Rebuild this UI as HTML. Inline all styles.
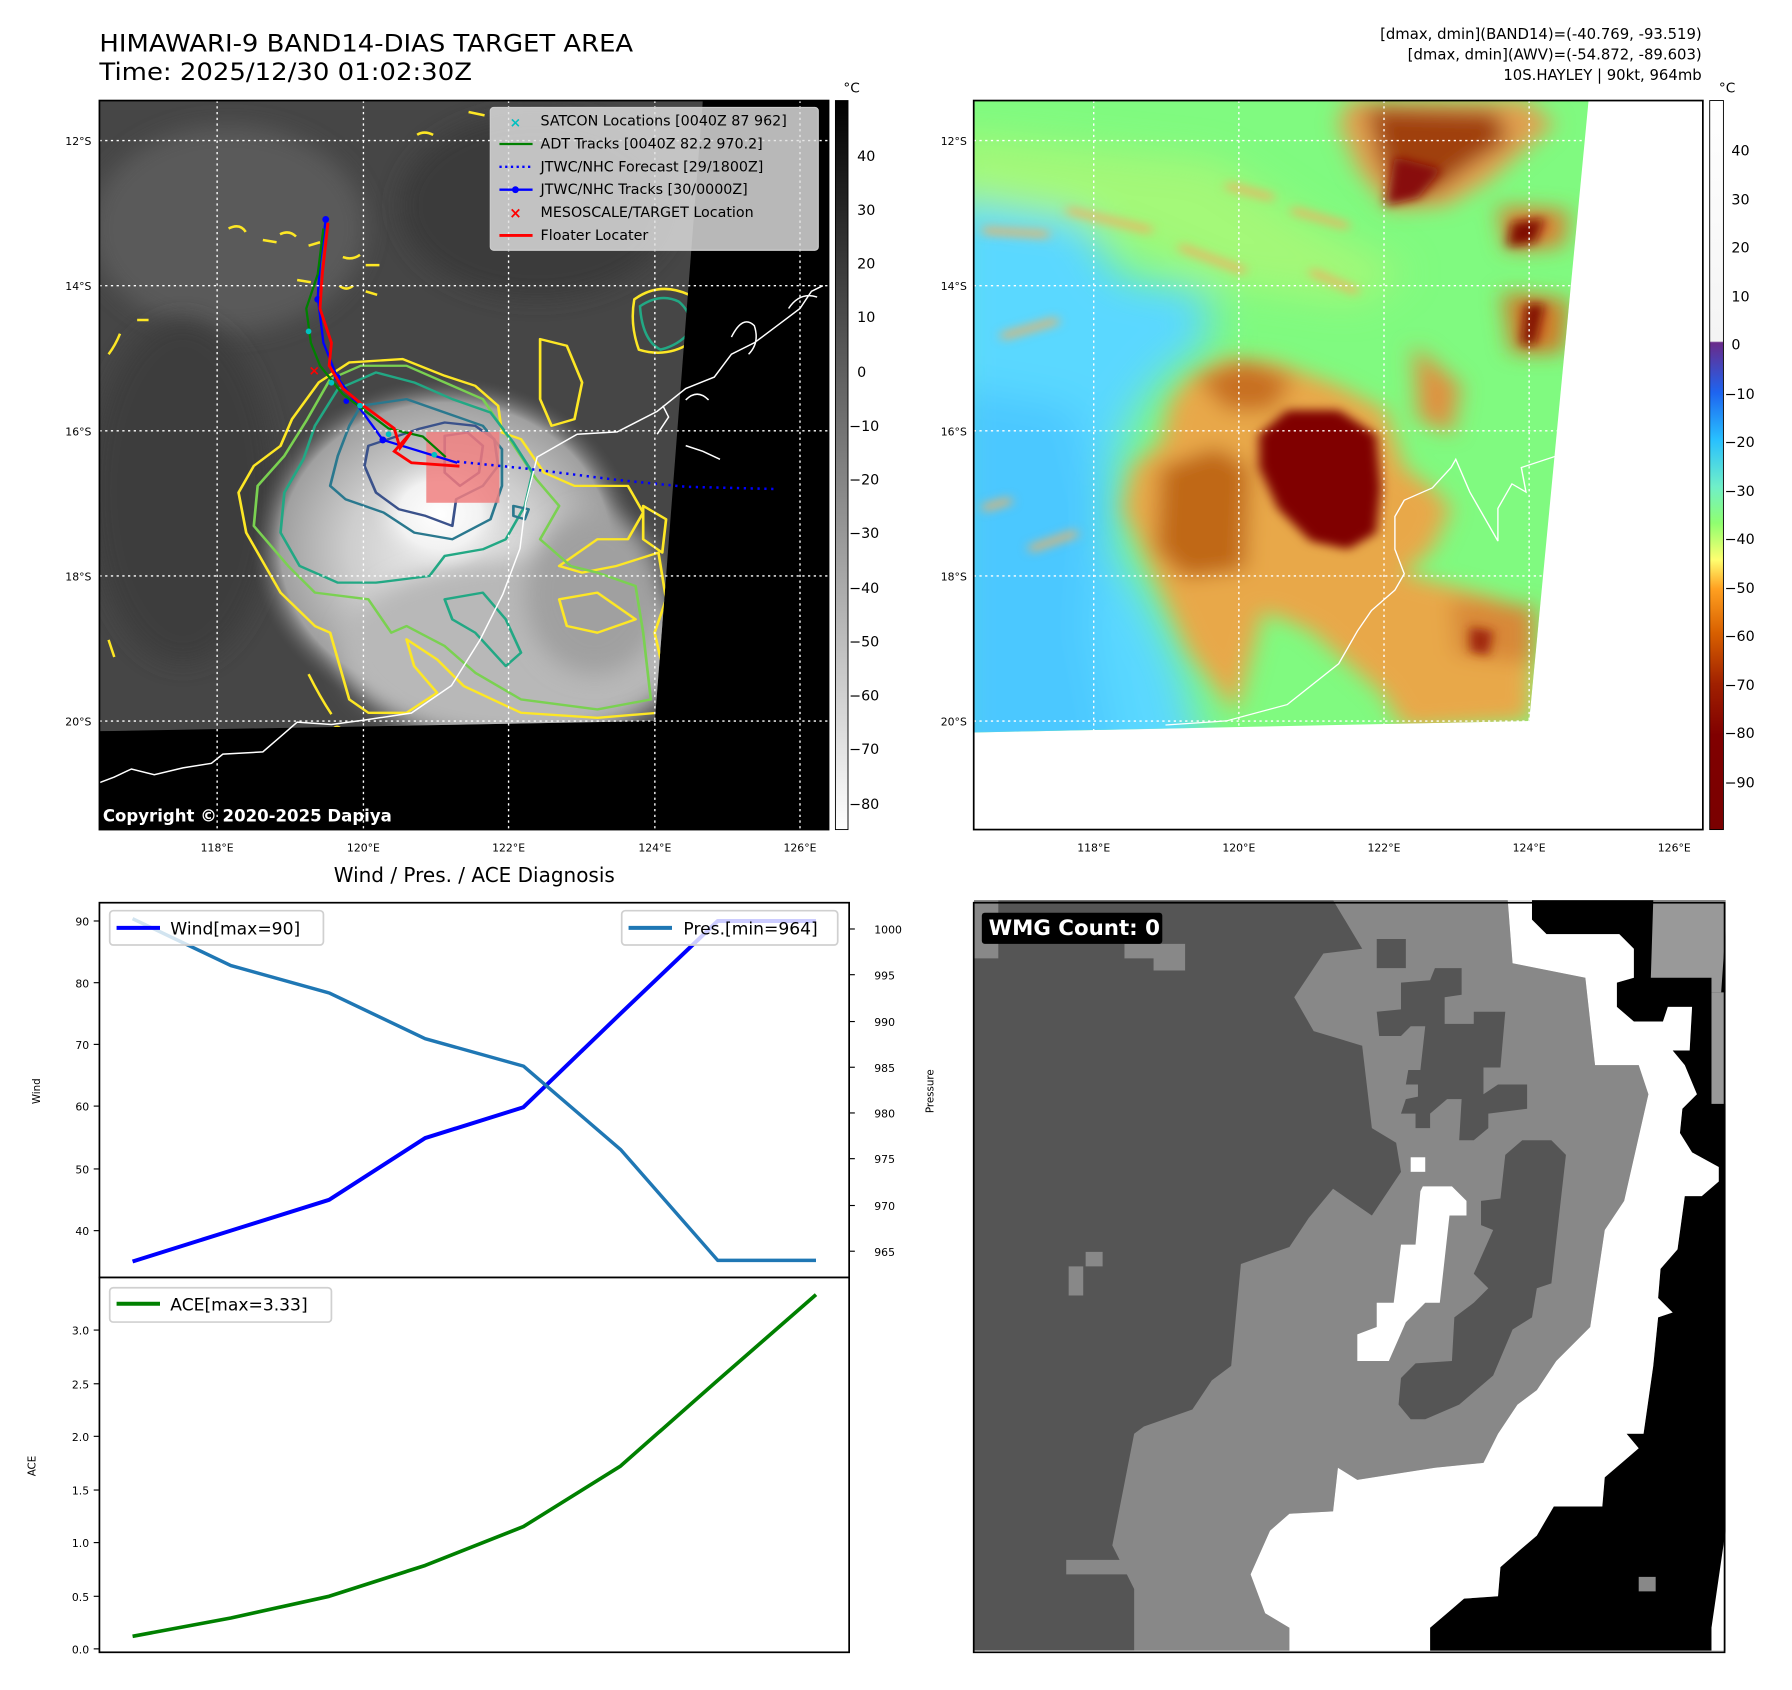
<!DOCTYPE html>
<html><head><meta charset="utf-8"><style>
html,body{margin:0;padding:0;background:#fff;}
svg{display:block;font-family:"DejaVu Sans","Liberation Sans",sans-serif;}
</style></head><body>
<svg width="1792" height="1690" viewBox="0 0 1568 1479" preserveAspectRatio="none" xmlns="http://www.w3.org/2000/svg">
<defs>
<radialGradient id="storm1" cx="0.5" cy="0.5" r="0.5">
<stop offset="0" stop-color="#f0f0f0"/><stop offset="0.5" stop-color="#cdcdcd"/><stop offset="0.85" stop-color="#a0a0a0"/><stop offset="1" stop-color="#555" stop-opacity="0"/>
</radialGradient>
<radialGradient id="core1" cx="0.5" cy="0.5" r="0.5">
<stop offset="0" stop-color="#fff"/><stop offset="0.6" stop-color="#f2f2f2"/><stop offset="1" stop-color="#ddd" stop-opacity="0"/>
</radialGradient>
<linearGradient id="cb1" x1="0" y1="0" x2="0" y2="1"><stop offset="0" stop-color="#000"/><stop offset="1" stop-color="#fff"/></linearGradient>
<linearGradient id="cb2" x1="0" y1="0" x2="0" y2="1">
<stop offset="0" stop-color="#ffffff"/><stop offset="0.33" stop-color="#f4f4f4"/>
<stop offset="0.332" stop-color="#6a2a8a"/><stop offset="0.40" stop-color="#1e64f0"/>
<stop offset="0.465" stop-color="#28c0ff"/><stop offset="0.53" stop-color="#70f0c8"/>
<stop offset="0.58" stop-color="#90ff70"/><stop offset="0.63" stop-color="#ffff70"/>
<stop offset="0.67" stop-color="#ffa020"/><stop offset="0.73" stop-color="#d86000"/>
<stop offset="0.80" stop-color="#a02000"/><stop offset="0.87" stop-color="#800000"/><stop offset="1" stop-color="#7a0000"/>
</linearGradient>
<filter id="bl" x="-20%" y="-20%" width="140%" height="140%"><feGaussianBlur stdDeviation="10"/></filter>
<filter id="bl3" x="-30%" y="-30%" width="160%" height="160%"><feGaussianBlur stdDeviation="45"/></filter>
<filter id="bl2" x="-30%" y="-30%" width="160%" height="160%"><feGaussianBlur stdDeviation="24"/></filter>
<filter id="bl4" x="-30%" y="-30%" width="160%" height="160%"><feGaussianBlur stdDeviation="12"/></filter>
<clipPath id="c1"><rect x="87" y="88" width="638" height="638"/></clipPath>
<clipPath id="c1d"><polygon points="87,88 615,88 573,631 87,640"/></clipPath>
<clipPath id="c2"><polygon points="852,88 1390,88 1338,631 852,641"/></clipPath>
</defs>

<text x="87" y="45" font-size="21" textLength="467" lengthAdjust="spacingAndGlyphs">HIMAWARI-9 BAND14-DIAS TARGET AREA</text>
<text x="87" y="70" font-size="21" textLength="326" lengthAdjust="spacingAndGlyphs">Time: 2025/12/30 01:02:30Z</text>
<text x="1489" y="34" font-size="13" text-anchor="end">[dmax, dmin](BAND14)=(-40.769, -93.519)</text>
<text x="1489" y="52" font-size="13" text-anchor="end">[dmax, dmin](AWV)=(-54.872, -89.603)</text>
<text x="1489" y="70" font-size="13" text-anchor="end">10S.HAYLEY | 90kt, 964mb</text>

<!-- MAP 1 -->
<g clip-path="url(#c1)">
<rect x="87" y="88" width="638" height="638" fill="#000"/>
<g clip-path="url(#c1d)">
<rect x="87" y="88" width="638" height="638" fill="#464646"/>
<ellipse cx="200" cy="200" rx="120" ry="90" fill="#5a5a5a" filter="url(#bl)"/>
<ellipse cx="470" cy="180" rx="120" ry="80" fill="#3a3a3a" filter="url(#bl)"/>
<ellipse cx="160" cy="430" rx="80" ry="150" fill="#3c3c3c" filter="url(#bl)"/>
<ellipse cx="390" cy="480" rx="170" ry="150" fill="url(#storm1)"/>
<ellipse cx="450" cy="570" rx="150" ry="80" fill="#b8b8b8" filter="url(#bl)"/>
<ellipse cx="520" cy="520" rx="60" ry="70" fill="#a0a0a0" filter="url(#bl)"/>
<ellipse cx="385" cy="450" rx="60" ry="50" fill="url(#core1)"/>
<g transform="translate(88.5,261.7) scale(0.334,0.292)" fill="none" stroke-width="7" stroke-linejoin="round">
<path stroke="#fde725" d="M570,250 L650,190 L790,180 L900,230 L980,260 L1040,320 L1050,400 L1100,420 L1160,520 L1240,560 L1380,560 L1420,640 L1380,720 L1300,720 L1200,800 L1260,820 L1350,800 L1460,760 L1480,900 L1450,1000 L1470,1100 L1460,1240 L1300,1255 L1100,1240 L950,1160 L880,1080 L800,1020 L820,1100 L880,1180 L800,1240 L700,1240 L650,1200 L600,1000 L560,980 L470,880 L430,800 L380,700 L360,580 L400,500 L470,440 L500,360 Z"/>
<path stroke="#7ad151" d="M600,240 L680,200 L800,200 L900,250 L1000,300 L1070,420 L1140,540 L1200,620 L1150,720 L1230,800 L1300,820 L1400,860 L1420,1000 L1440,1200 L1300,1230 L1100,1200 L980,1120 L900,1040 L800,980 L760,1000 L700,900 L560,880 L490,800 L400,680 L410,560 L480,470 L540,360 Z"/>
<path stroke="#22a884" d="M620,270 L720,220 L820,250 L920,300 L1020,340 L1080,430 L1130,520 L1110,620 L1060,720 L1000,750 L900,770 L860,830 L720,850 L620,850 L520,800 L470,700 L480,580 L530,480 L560,380 Z M900,900 L1000,880 L1060,960 L1100,1060 L1060,1100 L980,1000 L920,960 Z"/>
<path stroke="#2a788e" d="M680,320 L800,300 L900,340 L1000,380 L1050,450 L1050,560 L1020,660 L920,720 L820,700 L740,640 L640,600 L600,560 L620,470 L650,380 Z M1080,620 L1120,630 L1110,660 L1080,650 Z"/>
<path stroke="#3b528b" d="M700,440 L830,390 L900,370 L980,380 L1030,420 L1040,500 L1000,560 L930,600 L920,680 L850,650 L780,630 L720,580 L690,500 Z"/>
<path stroke="#46337e" d="M900,410 L960,400 L1000,440 L990,520 L940,560 L900,520 Z"/>
<path stroke="#fde725" d="M1150,120 L1220,140 L1260,250 L1240,360 L1180,380 L1150,300 Z M1420,620 L1480,660 L1470,760 L1420,720 Z M1200,900 L1300,880 L1400,960 L1300,1000 L1220,980 Z"/>
</g>
<g fill="none" stroke="#fde725" stroke-width="2.2">
<path d="M200,200 q10,-5 15,3 M230,210 l12,2 M245,205 q8,-4 14,2 M270,215 l10,-3 M300,225 q8,3 15,-2 M320,232 l12,0 M297,250 q6,5 12,0 M320,255 l10,3 M260,245 l12,2 M95,310 q6,-8 10,-18 M365,118 q6,-4 14,0 M410,98 l14,3 M120,280 l10,0"/>
<path d="M560,268 q18,-12 34,-4 q12,10 10,26 q-10,12 -26,16 q-16,-8 -18,-38 Z" stroke="#22a884"/>
<path d="M555,262 q22,-16 48,-4 q12,18 4,40 q-22,16 -48,8 q-8,-22 -4,-44 Z"/>
<path d="M270,590 q10,20 20,35 M95,560 l5,15 M290,640 q5,-8 10,0"/>
</g>
</g>
<g fill="none" stroke="#fff" stroke-width="1.3">
<path d="M87,685 L100,680 L115,673 L135,678 L160,672 L185,668 L195,660 L230,658 L245,645 L260,632 L290,634 L320,630 L360,624 L395,600 L420,560 L440,520 L455,480 L460,440 L470,400 L505,380 L540,378 L575,360 L600,340 L625,330 L640,310 L660,300 L680,285 L700,270 L710,255 L720,250"/>
<path d="M600,390 L615,395 L630,402 M575,380 l10,-15 l-5,-10 M640,295 q10,-20 20,-10 q5,15 -5,25 M690,270 q10,-15 25,-10 M600,350 q10,-10 20,0"/>
</g>
<rect x="373" y="378" width="64" height="62" fill="#f08080" opacity="0.85"/>
<path d="M400,404 L460,410 L540,420 L600,426 L680,428" fill="none" stroke="#0000ff" stroke-width="2.2" stroke-dasharray="2,4"/>
<polyline points="285,192 280,230 278,260 283,300 295,330 335,385 400,405" fill="none" stroke="#0000ff" stroke-width="2"/>
<g fill="#0000ff"><circle cx="285" cy="192" r="3"/><circle cx="278" cy="262" r="3"/><circle cx="295" cy="330" r="3"/><circle cx="335" cy="385" r="3"/><circle cx="303" cy="351" r="2.5"/></g>
<polyline points="283,200 278,240 268,270 272,300 280,320 300,345 340,375 370,382 390,400" fill="none" stroke="#008000" stroke-width="2"/>
<polyline points="287,195 282,240 280,270 290,300 288,320 300,340 318,355 345,375 350,392 360,378 345,395 360,405 402,408" fill="none" stroke="#ff0000" stroke-width="2.5"/>
<g fill="#00c0c0"><circle cx="270" cy="290" r="2.5"/><circle cx="290" cy="335" r="2.5"/><circle cx="315" cy="355" r="2.5"/><circle cx="340" cy="380" r="2.5"/><circle cx="380" cy="398" r="2.5"/></g>
<text x="275" y="328" font-size="12" fill="#ff0000" text-anchor="middle" font-weight="bold">×</text>
<g stroke="#fff" stroke-width="1.2" stroke-dasharray="2,3">
<line x1="190" y1="88" x2="190" y2="726"/><line x1="318" y1="88" x2="318" y2="726"/><line x1="445" y1="88" x2="445" y2="726"/><line x1="573" y1="88" x2="573" y2="726"/><line x1="700" y1="88" x2="700" y2="726"/>
<line x1="87" y1="123" x2="725" y2="123"/><line x1="87" y1="250" x2="725" y2="250"/><line x1="87" y1="377" x2="725" y2="377"/><line x1="87" y1="504" x2="725" y2="504"/><line x1="87" y1="631" x2="725" y2="631"/>
</g>
<rect x="429" y="94" width="287" height="125" rx="3" fill="#e0e0e0" fill-opacity="0.82" stroke="#ccc"/>
<g font-size="12.5">
<text x="473" y="110">SATCON Locations [0040Z 87 962]</text>
<text x="473" y="130">ADT Tracks [0040Z 82.2 970.2]</text>
<text x="473" y="150">JTWC/NHC Forecast [29/1800Z]</text>
<text x="473" y="170">JTWC/NHC Tracks [30/0000Z]</text>
<text x="473" y="190">MESOSCALE/TARGET Location</text>
<text x="473" y="210">Floater Locater</text>
</g>
<text x="451" y="111" font-size="12" fill="#00c0c0" text-anchor="middle" font-weight="bold">×</text>
<line x1="437" y1="126" x2="466" y2="126" stroke="#008000" stroke-width="2"/>
<line x1="437" y1="146" x2="466" y2="146" stroke="#0000ff" stroke-width="2" stroke-dasharray="2,3"/>
<line x1="437" y1="166" x2="466" y2="166" stroke="#0000ff" stroke-width="2"/><circle cx="451" cy="166" r="3" fill="#0000ff"/>
<text x="451" y="191" font-size="13" fill="#ff0000" text-anchor="middle" font-weight="bold">×</text>
<line x1="437" y1="206" x2="466" y2="206" stroke="#ff0000" stroke-width="2.5"/>
<text x="90" y="719" font-size="14.5" font-weight="bold" fill="#fff">Copyright © 2020-2025 Dapiya</text>
</g>
<rect x="87" y="88" width="638" height="638" fill="none" stroke="#000" stroke-width="1.5"/>
<g font-size="9.5" text-anchor="end">
<text x="80" y="127">12°S</text><text x="80" y="254">14°S</text><text x="80" y="381">16°S</text><text x="80" y="508">18°S</text><text x="80" y="635">20°S</text>
</g>
<g font-size="9.5" text-anchor="middle">
<text x="190" y="745">118°E</text><text x="318" y="745">120°E</text><text x="445" y="745">122°E</text><text x="573" y="745">124°E</text><text x="700" y="745">126°E</text>
</g>
<rect x="731" y="88" width="11" height="638" fill="url(#cb1)" stroke="#000" stroke-width="0.8"/>
<text x="738" y="81" font-size="12">°C</text>
<g font-size="12.5">
<text x="750" y="141">40</text><text x="750" y="188">30</text><text x="750" y="235">20</text><text x="750" y="282">10</text><text x="750" y="330">0</text>
<text x="743" y="377">−10</text><text x="743" y="424">−20</text><text x="743" y="471">−30</text><text x="743" y="519">−40</text><text x="743" y="566">−50</text><text x="743" y="613">−60</text><text x="743" y="660">−70</text><text x="743" y="708">−80</text>
</g>

<!-- MAP 2 -->
<rect x="852" y="88" width="638" height="638" fill="#fff"/>
<g clip-path="url(#c2)">
<rect x="852" y="88" width="540" height="560" fill="#80fa80"/>
<g transform="translate(860,87.2) scale(0.4097,0.3577)">
<g filter="url(#bl3)">
<polygon fill="#5ad8ff" points="-80,220 200,280 300,440 480,470 480,600 400,660 330,760 290,900 290,1100 370,1250 430,1400 480,1650 -80,1650"/>
<polygon fill="#4cc8ff" points="-80,700 200,750 250,1000 230,1300 290,1650 -80,1650"/>
<polygon fill="#c8f870" points="-80,80 500,150 700,300 900,420 800,500 500,450 200,300 -80,260" opacity="0.5"/>
</g>
<g filter="url(#bl2)">
<polygon fill="#e8a848" points="440,680 520,630 620,640 760,700 860,760 900,900 960,950 1000,1000 960,1100 900,1160 1100,1220 1180,1270 1170,1520 900,1540 850,1450 700,1300 600,1250 540,1500 440,1350 380,1200 300,1000 320,900 380,840 400,740"/>
<polygon fill="#c06818" points="380,900 500,850 570,900 560,1150 430,1170 370,1100"/>
<polygon fill="#c87020" points="460,680 560,640 660,680 620,760 520,760"/>
<polygon fill="#e0a050" points="780,0 1160,0 1220,60 1160,120 1080,200 990,260 870,270 800,170 760,60"/>
<polygon fill="#a04010" points="820,20 1100,30 1120,100 1040,160 960,230 890,240 850,150"/>
<polygon fill="#d88030" points="1100,260 1250,270 1240,360 1120,370"/>
<polygon fill="#d07828" points="1110,470 1250,490 1240,620 1130,620"/>
<polygon fill="#d88838" points="1000,1220 1180,1240 1180,1380 1010,1360"/>
<polygon fill="#e09040" points="920,600 1020,700 1000,820 930,780"/>
</g>
<g filter="url(#bl4)">
<path fill="none" stroke="#f0b060" stroke-width="16" d="M180,270 L360,320 M420,360 L560,420 M520,210 L620,240 M660,270 L780,310 M0,320 L140,330 M700,420 L800,470 M40,580 L160,540 M0,1000 L60,980 M100,1100 L200,1060"/>
<polygon fill="#800000" points="590,820 650,760 760,760 840,820 850,950 840,1060 780,1100 700,1080 630,1000 590,900"/>
<polygon fill="#880808" points="880,140 980,170 930,240 860,260"/>
<polygon fill="#801000" points="1130,300 1200,290 1180,350 1120,360"/>
<polygon fill="#801000" points="1160,500 1200,500 1180,600 1150,600"/>
<polygon fill="#a02808" points="1040,1290 1090,1300 1080,1360 1040,1350"/>
</g>
<path fill="none" stroke="#fff" stroke-width="3" d="M390,1530 L520,1520 L650,1480 L760,1380 L800,1300 L830,1250 L880,1200 L900,1160 L880,1100 L880,1020 L900,980 L960,950 L1000,900 L1010,880 L1040,960 L1100,1080 L1100,1000 L1130,940 L1160,960 L1150,900 L1230,870 L1240,690"/>
</g>
</g>
<g stroke="#fff" stroke-width="1.2" stroke-dasharray="2,3">
<line x1="957" y1="88" x2="957" y2="640"/><line x1="1084" y1="88" x2="1084" y2="637"/><line x1="1211" y1="88" x2="1211" y2="635"/><line x1="1338" y1="88" x2="1338" y2="631"/>
<line x1="852" y1="123" x2="1387" y2="123"/><line x1="852" y1="250" x2="1375" y2="250"/><line x1="852" y1="377" x2="1363" y2="377"/><line x1="852" y1="504" x2="1350" y2="504"/><line x1="852" y1="631" x2="1338" y2="631"/>
</g>
<rect x="852" y="88" width="638" height="638" fill="none" stroke="#000" stroke-width="1.5"/>
<g font-size="9.5" text-anchor="end">
<text x="846" y="127">12°S</text><text x="846" y="254">14°S</text><text x="846" y="381">16°S</text><text x="846" y="508">18°S</text><text x="846" y="635">20°S</text>
</g>
<g font-size="9.5" text-anchor="middle">
<text x="957" y="745">118°E</text><text x="1084" y="745">120°E</text><text x="1211" y="745">122°E</text><text x="1338" y="745">124°E</text><text x="1465" y="745">126°E</text>
</g>
<rect x="1496" y="88" width="12" height="638" fill="url(#cb2)" stroke="#000" stroke-width="0.8"/>
<text x="1504" y="81" font-size="12">°C</text>
<g font-size="12.5">
<text x="1515" y="136">40</text><text x="1515" y="179">30</text><text x="1515" y="221">20</text><text x="1515" y="264">10</text><text x="1515" y="306">0</text>
<text x="1509" y="349">−10</text><text x="1509" y="391">−20</text><text x="1509" y="434">−30</text><text x="1509" y="476">−40</text><text x="1509" y="519">−50</text><text x="1509" y="561">−60</text><text x="1509" y="604">−70</text><text x="1509" y="646">−80</text><text x="1509" y="689">−90</text>
</g>

<!-- WIND / PRES -->
<text x="415" y="772" font-size="17.5" text-anchor="middle">Wind / Pres. / ACE Diagnosis</text>
<rect x="87" y="790" width="656" height="328" fill="#fff" stroke="#000" stroke-width="1.5"/>
<polyline points="116,1104 202,1077 288,1050 372,996 458,969 543,887 628,806 714,806" fill="none" stroke="#0000ff" stroke-width="3.5" stroke-linejoin="round"/>
<polyline points="116,804 202,845 288,869 372,909 458,933 543,1006 628,1103 714,1103" fill="none" stroke="#1f77b4" stroke-width="3" stroke-linejoin="round"/>
<rect x="96" y="797" width="187" height="30" rx="3" fill="#fff" fill-opacity="0.8" stroke="#d0d0d0" stroke-width="1.5"/>
<line x1="102" y1="812" x2="140" y2="812" stroke="#0000ff" stroke-width="3.5"/>
<text x="149" y="818" font-size="15">Wind[max=90]</text>
<rect x="544" y="797" width="189" height="30" rx="3" fill="#fff" fill-opacity="0.8" stroke="#d0d0d0" stroke-width="1.5"/>
<line x1="550" y1="812" x2="588" y2="812" stroke="#1f77b4" stroke-width="3.5"/>
<text x="598" y="818" font-size="15">Pres.[min=964]</text>
<g stroke="#000" stroke-width="1"><line x1="82" y1="806" x2="87" y2="806"/><line x1="82" y1="860" x2="87" y2="860"/><line x1="82" y1="914" x2="87" y2="914"/><line x1="82" y1="968" x2="87" y2="968"/><line x1="82" y1="1023" x2="87" y2="1023"/><line x1="82" y1="1077" x2="87" y2="1077"/></g>
<g font-size="9.5" text-anchor="end">
<text x="78" y="810">90</text><text x="78" y="864">80</text><text x="78" y="918">70</text><text x="78" y="972">60</text><text x="78" y="1027">50</text><text x="78" y="1081">40</text>
</g>
<g stroke="#000" stroke-width="1"><line x1="743" y1="813" x2="748" y2="813"/><line x1="743" y1="853" x2="748" y2="853"/><line x1="743" y1="894" x2="748" y2="894"/><line x1="743" y1="934" x2="748" y2="934"/><line x1="743" y1="974" x2="748" y2="974"/><line x1="743" y1="1014" x2="748" y2="1014"/><line x1="743" y1="1055" x2="748" y2="1055"/><line x1="743" y1="1095" x2="748" y2="1095"/></g>
<g font-size="9.5">
<text x="765" y="817">1000</text><text x="765" y="857">995</text><text x="765" y="898">990</text><text x="765" y="938">985</text><text x="765" y="978">980</text><text x="765" y="1018">975</text><text x="765" y="1059">970</text><text x="765" y="1099">965</text>
</g>
<text transform="translate(35,955) rotate(-90)" font-size="9" text-anchor="middle">Wind</text>
<text transform="translate(817,955) rotate(-90)" font-size="9" text-anchor="middle">Pressure</text>

<!-- ACE -->
<rect x="87" y="1118" width="656" height="328" fill="#fff" stroke="#000" stroke-width="1.5"/>
<polyline points="116,1432 202,1416 288,1397 372,1370 458,1336 543,1283 628,1208 714,1133" fill="none" stroke="#008000" stroke-width="3.2" stroke-linejoin="round"/>
<rect x="96" y="1127" width="194" height="30" rx="3" fill="#fff" fill-opacity="0.8" stroke="#d0d0d0" stroke-width="1.5"/>
<line x1="102" y1="1141" x2="140" y2="1141" stroke="#008000" stroke-width="3.5"/>
<text x="149" y="1147" font-size="15">ACE[max=3.33]</text>
<g stroke="#000" stroke-width="1"><line x1="82" y1="1443" x2="87" y2="1443"/><line x1="82" y1="1397" x2="87" y2="1397"/><line x1="82" y1="1350" x2="87" y2="1350"/><line x1="82" y1="1304" x2="87" y2="1304"/><line x1="82" y1="1257" x2="87" y2="1257"/><line x1="82" y1="1211" x2="87" y2="1211"/><line x1="82" y1="1164" x2="87" y2="1164"/></g>
<g font-size="9.5" text-anchor="end">
<text x="78" y="1447">0.0</text><text x="78" y="1401">0.5</text><text x="78" y="1354">1.0</text><text x="78" y="1308">1.5</text><text x="78" y="1261">2.0</text><text x="78" y="1215">2.5</text><text x="78" y="1168">3.0</text>
</g>
<text transform="translate(31,1283) rotate(-90)" font-size="9" text-anchor="middle">ACE</text>

<!-- WMG panel -->
<g transform="translate(852.3,787.8) scale(0.4245)">
<rect x="0" y="0" width="1549" height="1547" fill="#555"/>
<polygon fill="#888" points="740,0 1100,0 1110,130 1260,160 1280,340 1370,340 1390,400 1340,620 1300,680 1270,880 1200,950 1160,1010 1120,1040 1080,1100 1050,1160 950,1170 790,1195 750,1170 740,1260 650,1265 610,1300 570,1390 600,1470 650,1500 650,1547 330,1547 330,1420 285,1330 330,1100 350,1085 450,1050 490,990 530,960 550,750 650,715 690,655 740,595 820,650 880,560 870,500 820,470 800,300 700,270 660,200 720,110 800,100"/>
<polygon fill="#888" points="0,0 50,0 50,120 0,120"/>
<polygon fill="#888" points="310,90 435,90 435,145 370,145 370,120 310,120"/>
<polygon fill="#888" points="190,1360 380,1360 380,1390 190,1390"/>
<polygon fill="#888" points="195,755 230,755 230,725 265,725 265,755 225,755 225,815 195,815"/>
<polygon fill="#000" points="1150,0 1549,0 1549,1547 940,1547 940,1500 975,1470 1010,1440 1080,1435 1085,1375 1125,1340 1160,1310 1195,1250 1295,1250 1300,1190 1335,1160 1370,1130 1345,1100 1380,1100 1400,960 1410,860 1440,850 1410,820 1415,760 1450,720 1465,610 1500,610 1535,580 1535,550 1480,520 1455,480 1460,430 1490,400 1465,340 1440,310 1475,310 1480,220 1430,220 1420,250 1360,250 1325,220 1325,170 1360,160 1360,100 1330,70 1180,70 1150,40"/>
<polygon fill="#fff" points="1100,0 1150,0 1150,40 1180,70 1330,70 1360,100 1360,160 1325,170 1325,220 1360,250 1420,250 1430,220 1480,220 1475,310 1440,310 1465,340 1490,400 1460,430 1455,480 1480,520 1535,550 1535,580 1500,610 1465,610 1450,720 1415,760 1410,820 1440,850 1410,860 1400,960 1380,1100 1345,1100 1370,1130 1335,1160 1300,1190 1295,1250 1195,1250 1160,1310 1125,1340 1085,1375 1080,1435 1010,1440 975,1470 940,1500 940,1547 650,1547 650,1500 600,1470 570,1390 610,1300 650,1265 740,1260 750,1170 790,1195 950,1170 1050,1160 1080,1100 1120,1040 1160,1010 1200,950 1270,880 1300,680 1340,620 1390,400 1370,340 1280,340 1260,160 1110,130"/>
<polygon fill="#999" points="1400,0 1549,0 1549,60 1540,190 1520,190 1520,160 1395,160"/>
<polygon fill="#999" points="1520,190 1549,190 1549,420 1520,420"/>
<polygon fill="#fff" points="1520,1500 1549,1300 1549,1547 1520,1547"/>
<polygon fill="#888" points="1370,1395 1405,1395 1405,1425 1370,1425"/>
<polygon fill="#fff" points="925,590 985,590 1015,620 1015,650 980,650 960,830 930,830 890,870 855,950 790,950 790,895 830,880 830,830 865,830 880,710 910,710 920,600"/>
<polygon fill="#fff" points="900,530 930,530 930,560 900,560"/>
<polygon fill="#555" points="1130,495 1190,495 1220,525 1190,790 1160,800 1150,860 1110,885 1070,980 1000,1040 930,1070 900,1070 875,1040 880,985 910,955 985,950 990,860 1030,830 1060,800 1030,770 1070,680 1045,670 1045,620 1085,615 1095,525"/>
<polygon fill="#555" points="950,140 1005,140 1005,195 970,200 970,255 1030,255 1030,230 1095,230 1085,345 1050,345 1050,400 1080,380 1140,380 1140,430 1060,440 1060,470 1030,495 1000,495 1005,410 975,410 940,440 940,470 910,470 910,440 880,440 890,410 915,405 915,380 890,380 895,350 920,350 930,260 900,260 880,280 835,280 830,230 880,225 880,170 940,165"/>
<polygon fill="#555" points="830,80 890,80 890,140 830,140"/>
<rect x="16" y="26" width="372" height="64" rx="6" fill="#000"/>
<text x="30" y="72" font-size="44" font-weight="bold" fill="#fff">WMG Count: 0</text>
</g>
<rect x="852" y="790" width="657" height="656" fill="none" stroke="#000" stroke-width="1.5"/>
</svg>
</body></html>
